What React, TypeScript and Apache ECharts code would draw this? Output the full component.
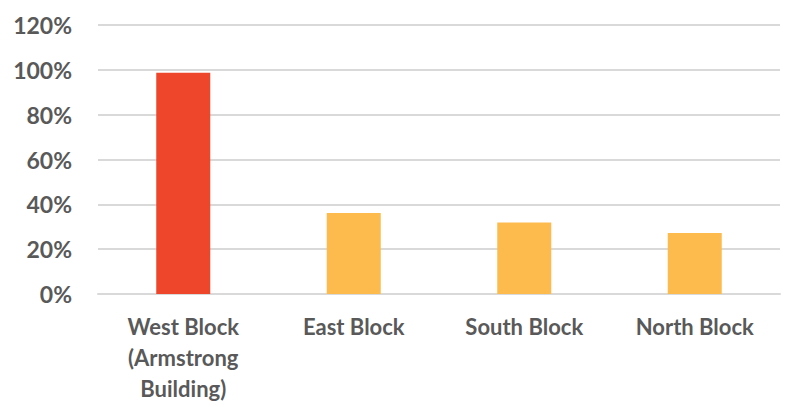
import React, { useEffect, useRef } from "react";
import * as echarts from "echarts";

const categories = ["West Block\n(Armstrong\nBuilding)", "East Block", "South Block", "North Block"];
const values = [98.7, 36.1, 31.9, 27.2];
const barColors = ["#EE462B", "#FDBB4E", "#FDBB4E", "#FDBB4E"];

export default function App() {
  const ref = useRef<HTMLDivElement>(null);
  useEffect(() => {
    const chart = echarts.init(ref.current!, null, { renderer: "svg" });
    chart.setOption({
      animation: false,
      grid: { left: 98, right: 7, top: 25, bottom: 113, containLabel: false },
      xAxis: {
        type: "category",
        data: categories,
        axisLine: { show: true, lineStyle: { color: "#D9D9D9", width: 2 } },
        axisTick: { show: false },
        axisLabel: {
          color: "#595959",
          fontFamily: "Lato",
          fontWeight: "bold",
          fontSize: 22,
          lineHeight: 31,
          margin: 17,
          interval: 0,
        },
      },
      yAxis: {
        type: "value",
        min: 0,
        max: 120,
        interval: 20,
        axisLine: { show: false },
        axisTick: { show: false },
        splitLine: { lineStyle: { color: "#D9D9D9", width: 2 } },
        axisLabel: {
          color: "#595959",
          fontFamily: "Lato",
          fontWeight: "bold",
          fontSize: 23,
          margin: 26,
          formatter: "{value}%",
        },
      },
      series: [
        {
          type: "bar",
          data: values.map((v, i) => ({ value: v, itemStyle: { color: barColors[i] } })),
          barWidth: 54,
        },
      ],
    });
    return () => chart.dispose();
  }, []);
  return <div ref={ref} style={{ width: 787, height: 407, position: "absolute", left: 0, top: 0 }} />;
}
